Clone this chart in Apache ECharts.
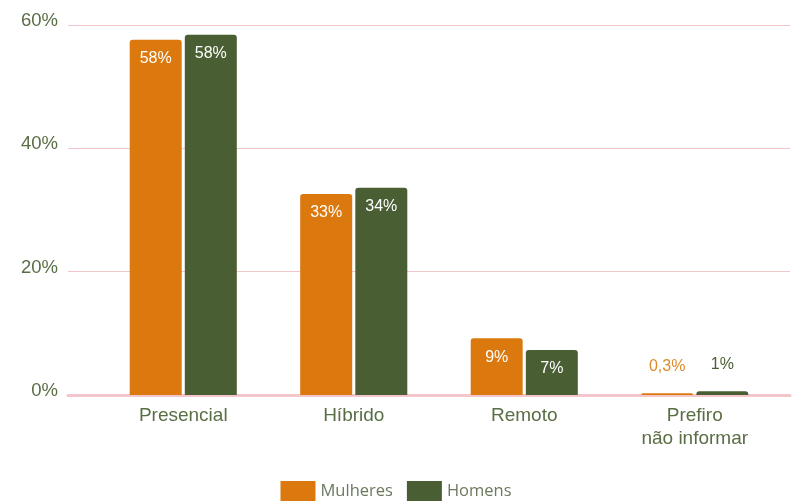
<!DOCTYPE html>
<html><head><meta charset="utf-8">
<script src="https://cdn.jsdelivr.net/npm/echarts@6/dist/echarts.min.js"></script>
<style>html,body{margin:0;padding:0;background:#fff}#c{width:792px;height:501px}</style>
</head><body><div id="c"></div>
<script>
const categories = ['Presencial', 'Híbrido', 'Remoto', 'Prefiro\nnão informar'];
const mulheres = [57.6, 32.6, 9.2, 0.3];
const homens = [58.4, 33.6, 7.3, 0.6];
const mulheresLabels = ['58%', '33%', '9%', '0,3%'];
const homensLabels = ['58%', '34%', '7%', '1%'];
const yTicks = [0, 20, 40, 60];

const ORANGE = '#DB790F';
const GREEN = '#4A5E33';
const TEXT = '#5A6E45';
const PINK = '#F2C6CA';
const FONT = '"Liberation Sans", Arial, sans-serif';

function mk(vals, labels, color, labelColorSmall) {
  return vals.map((v, i) => {
    const small = v < 3;
    return {
      value: v,
      label: small ? {
        show: true, position: 'top', distance: 19, color: labelColorSmall,
        formatter: labels[i], fontSize: 16, fontFamily: FONT
      } : {
        show: true, position: 'insideTop', distance: 11, color: '#fff',
        formatter: labels[i], fontSize: 16, fontFamily: FONT
      }
    };
  });
}

const chart = echarts.init(document.getElementById('c'));
chart.setOption({
  animation: false,
  grid: [
    { left: 68, right: 2, top: 25, bottom: 106 },
    { left: 98, right: 12, top: 25, bottom: 106 }
  ],
  legend: {
    bottom: 0, left: 'center', padding: 0, itemWidth: 35, itemHeight: 20, itemGap: 14,
    icon: 'rect',
    textStyle: { color: '#6B7A5F', fontSize: 16.5, fontFamily: '"Open Sans"' },
    data: ['Mulheres', 'Homens']
  },
  xAxis: [
    { gridIndex: 0, type: 'value', min: 0, max: 1,
      axisLabel: { show: false }, axisTick: { show: false }, splitLine: { show: false },
      axisLine: { show: true, lineStyle: { color: PINK, width: 3 } } },
    { gridIndex: 1, type: 'category', data: categories,
      axisLine: { show: false }, axisTick: { show: false },
      axisLabel: { color: TEXT, fontSize: 19, fontFamily: FONT, margin: 9, lineHeight: 23 } }
  ],
  yAxis: [
    { gridIndex: 0, type: 'value', min: 0, max: 60, interval: 20,
      axisLine: { show: false }, axisTick: { show: false },
      axisLabel: { color: TEXT, fontSize: 18.5, fontFamily: FONT, margin: 10,
        verticalAlign: 'bottom', lineHeight: 8,
        formatter: v => yTicks.includes(v) ? v + '%' : '' },
      splitLine: { show: true, lineStyle: { color: PINK, width: 1 } } },
    { gridIndex: 1, type: 'value', min: 0, max: 60, interval: 20, show: false,
      splitLine: { show: false } }
  ],
  series: [
    { name: 'Mulheres', type: 'bar', xAxisIndex: 1, yAxisIndex: 1,
      barWidth: 52, barGap: '6%',
      itemStyle: { color: ORANGE, borderRadius: [3, 3, 0, 0] },
      data: mk(mulheres, mulheresLabels, ORANGE, '#E08A2E') },
    { name: 'Homens', type: 'bar', xAxisIndex: 1, yAxisIndex: 1,
      barWidth: 52, barGap: '6%',
      itemStyle: { color: GREEN, borderRadius: [3, 3, 0, 0] },
      data: mk(homens, homensLabels, GREEN, GREEN) }
  ]
});
</script></body></html>
